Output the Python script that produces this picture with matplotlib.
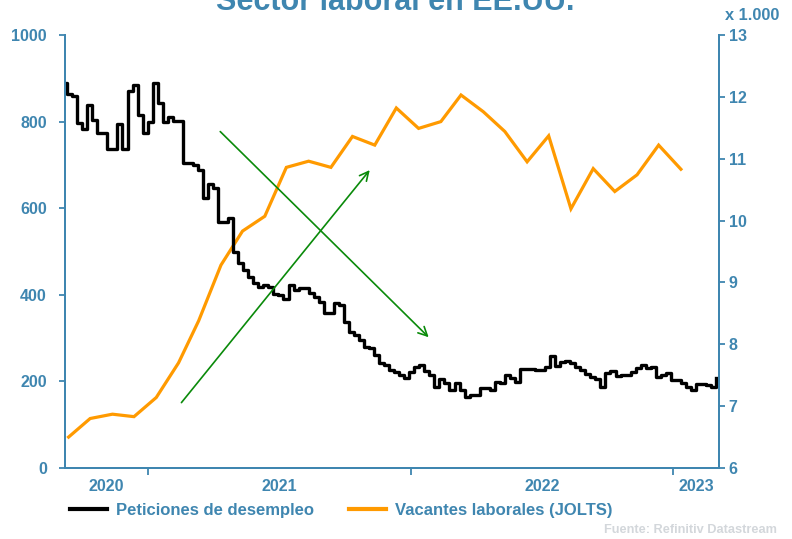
import matplotlib
matplotlib.use('Agg')
import matplotlib.pyplot as plt
import matplotlib.dates as mdates
from matplotlib.lines import Line2D
import pandas as pd

# ---------------- data ----------------
# Weekly initial jobless claims (thousands), week starting 2020-09-03
claims = [889, 864, 859, 796, 782, 838, 804, 774, 774, 736,
          736, 794, 736, 871, 884, 815, 773, 800, 888, 842,
          800, 811, 802, 802, 704, 704, 700, 688, 623, 657,
          646, 569, 569, 577, 500, 473, 457, 442, 427, 419,
          423, 419, 403, 400, 390, 423, 411, 415, 415, 405,
          395, 383, 359, 359, 380, 376, 338, 315, 307, 296,
          280, 276, 261, 243, 238, 226, 222, 215, 209, 222,
          234, 238, 225, 215, 188, 205, 196, 180, 196, 179,
          165, 169, 169, 184, 184, 179, 199, 196, 215, 207,
          199, 228, 228, 228, 226, 226, 234, 259, 236, 245,
          248, 242, 234, 226, 218, 211, 205, 188, 219, 225,
          212, 215, 215, 222, 230, 238, 230, 233, 211, 215,
          220, 203, 203, 196, 186, 180, 194, 194, 191, 188,
          207]
claims_start = '2020-09-03'

# Monthly JOLTS job openings (millions), Sep 2020 - Jan 2023
jolts = [6.50, 6.80, 6.87, 6.83, 7.14, 7.70, 8.38, 9.28, 9.83, 10.07,
         10.86, 10.96, 10.86, 11.36, 11.22, 11.82, 11.49, 11.60, 12.03, 11.76,
         11.44, 10.95, 11.37, 10.19, 10.84, 10.47, 10.74, 11.22, 10.83]
jolts_start = '2020-09-01'

left_ticks = [0, 200, 400, 600, 800, 1000]
right_ticks = [6, 7, 8, 9, 10, 11, 12, 13]
year_labels = ['2020', '2021', '2022', '2023']
x_start, x_end = '2020-09-07', '2023-03-06'

# trend arrows (tail date, tail value, head date, head value) on left scale
arrow_up = ('2021-02-16', 151, '2021-11-05', 688)
arrow_down = ('2021-04-11', 777, '2022-01-26', 302)

title = 'Sector laboral en EE.UU.'
legend_labels = ['Peticiones de desempleo', 'Vacantes laborales (JOLTS)']
source = 'Fuente: Refinitiv Datastream'

# ---------------- style ----------------
BLUE = '#3F86B0'
ORANGE = '#FF9A00'
GREEN = '#0A8A0A'
plt.rcParams['font.family'] = ['Liberation Sans', 'DejaVu Sans']
plt.rcParams['font.weight'] = 'bold'

W, H = 792, 539
fig = plt.figure(figsize=(W / 100, H / 100), dpi=100)
ax = fig.add_axes([65 / W, 1 - 468 / H, 654 / W, 433 / H])
ax2 = ax.twinx()
ax.set_zorder(ax2.get_zorder() + 1)
ax.patch.set_visible(False)

cdates = pd.date_range(claims_start, periods=len(claims), freq='7D')
jdates = pd.date_range(jolts_start, periods=len(jolts), freq='MS') + pd.Timedelta(days=11)

ax2.plot(jdates, jolts, color=ORANGE, lw=2.3, solid_joinstyle='miter')
ax.plot(cdates, claims, color='black', lw=2.4, drawstyle='steps-post')

xmin, xmax = pd.Timestamp(x_start), pd.Timestamp(x_end)
ax.set_xlim(xmin, xmax)
ax.set_ylim(0, 1000)
ax2.set_ylim(6, 13)
ax.set_yticks(left_ticks)
ax2.set_yticks(right_ticks)

# x-axis: ticks at year boundaries, labels centred in visible part of year
bounds = [pd.Timestamp(f'{y}-01-01') for y in range(2021, 2024)]
ax.set_xticks(bounds)
ax.set_xticklabels([''] * len(bounds))
edges = [xmin] + bounds + [xmax]
mids = [edges[i] + (edges[i + 1] - edges[i]) / 2 for i in range(len(edges) - 1)]
ax.set_xticks(mids, minor=True)
ax.set_xticklabels(year_labels, minor=True)
ax.tick_params(axis='x', which='minor', length=0, pad=8, labelsize=11.5, labelcolor=BLUE)
ax.tick_params(axis='x', which='major', length=5, width=1.3, color=BLUE, direction='out')

ax.tick_params(axis='y', length=4, width=1.3, color=BLUE, labelcolor=BLUE, labelsize=11.5, pad=9)
ax2.tick_params(axis='y', length=4, width=1.3, color=BLUE, labelcolor=BLUE, labelsize=11.5, pad=3)
for a in (ax, ax2):
    for lab in a.get_yticklabels() + a.get_xticklabels(which='both'):
        lab.set_fontweight('bold')
    a.spines['top'].set_visible(False)
    for s in ('left', 'right', 'bottom'):
        a.spines[s].set_color(BLUE)
        a.spines[s].set_linewidth(1.4)

# arrows
for t_d, t_v, h_d, h_v in (arrow_up, arrow_down):
    ax.annotate('', xy=(mdates.date2num(pd.Timestamp(h_d)), h_v),
                xytext=(mdates.date2num(pd.Timestamp(t_d)), t_v),
                arrowprops=dict(arrowstyle='->', color=GREEN, lw=1.2,
                                mutation_scale=16, shrinkA=0, shrinkB=0),
                zorder=5)

# texts
fig.text(395 / W, 1 - 10 / H, title, ha='center', va='baseline', fontsize=22,
         color=BLUE, fontweight='bold')
fig.text(725 / W, 1 - 15 / H, 'x 1.000', ha='left', va='center', fontsize=11.8,
         color=BLUE, fontweight='bold')
fig.text(777 / W, 1 - 530 / H, source, ha='right', va='center', fontsize=9.2,
         color='#D3D7DB', fontweight='bold')

handles = [Line2D([], [], color='black', lw=3), Line2D([], [], color=ORANGE, lw=3)]
leg = fig.legend(handles, legend_labels, loc='center left',
                 bbox_to_anchor=(70 / W, 1 - 510 / H), ncol=2, frameon=False,
                 borderaxespad=0, borderpad=0, handlelength=2.2,
                 handletextpad=0.55, columnspacing=2.1,
                 prop={'size': 12, 'weight': 'bold'})
for t in leg.get_texts():
    t.set_color(BLUE)

fig.savefig('out.png', dpi=100)
